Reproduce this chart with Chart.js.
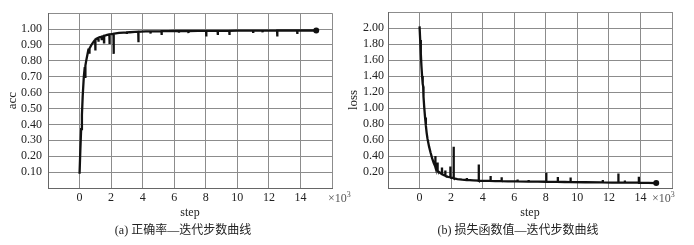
<!DOCTYPE html>
<html>
<head>
<meta charset="utf-8">
<script src="https://cdn.jsdelivr.net/npm/chart.js@4"></script>
<style>
  body { margin: 0; background: #fff; width: 694px; height: 245px; position: relative; overflow: hidden; }
  .panel { position: absolute; top: 0; width: 347px; height: 245px; }
  .cap { position: absolute; top: 222px; font: 12px/16px 'Liberation Serif', 'Noto Sans CJK SC'; color: #222; white-space: nowrap; transform: translateX(-50%); }
  .mul { position: absolute; top: 188px; font: 12px/14px 'Liberation Serif'; color: #555; white-space: nowrap; }
  .mul sup { font-size: 8px; }
</style>
</head>
<body>
<div class="panel" style="left:0">
  <canvas id="accChart" width="347" height="245"></canvas>
  <div class="mul" style="left:328px">×10<sup>3</sup></div>
  <div class="cap" style="left:183px">(a) 正确率—迭代步数曲线</div>
</div>
<div class="panel" style="left:347px">
  <canvas id="lossChart" width="347" height="245"></canvas>
  <div class="mul" style="left:305px">×10<sup>3</sup></div>
  <div class="cap" style="left:171px">(b) 损失函数值—迭代步数曲线</div>
</div>
<script>
// accuracy curve (step, acc)
const accSteps = [0, 50, 100, 150, 200, 270, 330, 350, 370, 420, 500, 560, 600, 620, 640, 750, 850, 950, 990, 1000,
  1010, 1100, 1190, 1200, 1210, 1300, 1390, 1400, 1410, 1500, 1540, 1550, 1560, 1650, 1750, 1890, 1900, 1910, 2000, 2150,
  2160, 2170, 2300, 2500, 2800, 2990, 3000, 3010, 3200, 3500, 3720, 3730, 3740, 3900, 4200, 4490, 4500, 4510, 4800, 5190,
  5200, 5210, 5600, 6000, 6290, 6300, 6310, 6890, 6900, 6910, 7500, 8020, 8030, 8040, 8400, 8750, 8760, 8770, 9100, 9490,
  9500, 9510, 10000, 10500, 10990, 11000, 11010, 11590, 11600, 11610, 12000, 12520, 12530, 12540, 13000, 13300, 13790, 13800, 13810, 14200,
  14600, 15000];
const accValues = [0.09, 0.24, 0.37, 0.46, 0.58, 0.70, 0.76, 0.70, 0.77, 0.80, 0.84, 0.87, 0.87, 0.845, 0.878, 0.90, 0.915, 0.928, 0.932, 0.865,
  0.935, 0.94, 0.945, 0.92, 0.946, 0.95, 0.952, 0.93, 0.953, 0.955, 0.956, 0.917, 0.958, 0.96, 0.963, 0.966, 0.906, 0.967, 0.968, 0.97,
  0.844, 0.971, 0.973, 0.976, 0.978, 0.979, 0.97, 0.979, 0.98, 0.982, 0.983, 0.917, 0.983, 0.984, 0.985, 0.986, 0.972, 0.986, 0.986, 0.987,
  0.963, 0.987, 0.987, 0.988, 0.988, 0.978, 0.988, 0.988, 0.975, 0.988, 0.989, 0.989, 0.954, 0.989, 0.989, 0.989, 0.963, 0.989, 0.989, 0.989,
  0.963, 0.989, 0.99, 0.99, 0.99, 0.982, 0.99, 0.99, 0.98, 0.99, 0.99, 0.991, 0.954, 0.991, 0.991, 0.991, 0.991, 0.969, 0.991, 0.991,
  0.991, 0.991];

// loss curve (step, loss)
const lossSteps = [0, 40, 80, 120, 160, 200, 230, 250, 300, 350, 400, 450, 500, 600, 700, 800, 900, 990, 1000, 1010,
  1100, 1130, 1140, 1150, 1300, 1410, 1420, 1430, 1550, 1620, 1630, 1640, 1800, 1940, 1950, 1960, 2100, 2150, 2160, 2170,
  2400, 2700, 2990, 3000, 3010, 3400, 3740, 3750, 3760, 4100, 4490, 4500, 4510, 4800, 5190, 5200, 5210, 5600, 6000, 6200,
  6210, 6220, 6900, 6910, 6920, 7500, 8020, 8030, 8040, 8400, 8750, 8760, 8770, 9200, 9560, 9570, 9580, 10500, 11500, 11600,
  11610, 11620, 12200, 12590, 12600, 12610, 13000, 13010, 13020, 13500, 13890, 13900, 13910, 14500, 15000];
const lossValues = [2.02, 1.85, 1.68, 1.52, 1.40, 1.30, 1.27, 1.14, 1.00, 0.88, 0.78, 0.69, 0.62, 0.52, 0.44, 0.37, 0.31, 0.27, 0.40, 0.26,
  0.23, 0.22, 0.32, 0.215, 0.19, 0.175, 0.255, 0.172, 0.16, 0.155, 0.22, 0.153, 0.14, 0.135, 0.27, 0.133, 0.125, 0.122, 0.515, 0.12,
  0.112, 0.105, 0.10, 0.125, 0.10, 0.095, 0.092, 0.295, 0.09, 0.09, 0.088, 0.15, 0.088, 0.087, 0.086, 0.135, 0.085, 0.084, 0.083, 0.082,
  0.105, 0.082, 0.08, 0.10, 0.08, 0.079, 0.078, 0.19, 0.078, 0.077, 0.076, 0.137, 0.076, 0.075, 0.074, 0.13, 0.074, 0.072, 0.07, 0.07,
  0.10, 0.07, 0.068, 0.068, 0.18, 0.068, 0.067, 0.095, 0.067, 0.066, 0.066, 0.14, 0.065, 0.064, 0.062];

const serif = "'Liberation Serif', 'Times New Roman', serif";

function makeChart(id, steps, values, yMax, yStep, yTitle, yWidth, titlePad, tickPad, padRight) {
    const points = steps.map((s, i) => ({ x: s, y: values[i] }));
    const last = points.length - 1;
    new Chart(document.getElementById(id), {
        type: 'line',
        data: {
            datasets: [{
                data: points,
                borderColor: '#111',
                backgroundColor: '#111',
                borderWidth: 2.3,
                tension: 0,
                pointRadius: ctx => ctx.dataIndex === last ? 3 : 0,
                pointBorderWidth: 0,
            }],
        },
        options: {
            responsive: false,
            animation: false,
            devicePixelRatio: 1,
            layout: { padding: { top: 12, right: padRight, bottom: 26, left: 0 } },
            plugins: { legend: { display: false }, tooltip: { enabled: false } },
            scales: {
                x: {
                    type: 'linear',
                    min: -2000,
                    max: 16000,
                    afterFit: s => { s.height = 31; },
                    ticks: {
                        stepSize: 2000,
                        autoSkip: false,
                        padding: 3,
                        maxRotation: 0,
                        color: '#222',
                        font: { family: serif, size: 12 },
                        callback: v => (v < 0 || v > 14000) ? '' : v / 1000,
                    },
                    grid: { color: '#8c8c8c', lineWidth: 1, drawTicks: false },
                    border: { color: '#666', width: 1 },
                    title: {
                        display: true,
                        text: 'step',
                        color: '#222',
                        font: { family: serif, size: 12, lineHeight: 1 },
                        padding: 0,
                    },
                },
                y: {
                    min: 0,
                    max: yMax,
                    afterFit: s => { s.width = yWidth; },
                    ticks: {
                        stepSize: yStep,
                        autoSkip: false,
                        padding: tickPad,
                        color: '#222',
                        font: { family: serif, size: 12 },
                        callback: v => (v < 1e-6 || v > yMax - 1e-6) ? '' : v.toFixed(2),
                    },
                    grid: { color: '#8c8c8c', lineWidth: 1, drawTicks: false },
                    border: { color: '#666', width: 1 },
                    title: {
                        display: true,
                        text: yTitle,
                        color: '#222',
                        font: { family: serif, size: 13, lineHeight: 1 },
                        padding: { top: titlePad, bottom: 0 },
                    },
                },
            },
        },
    });
}

makeChart('accChart', accSteps, accValues, 1.1, 0.1, 'acc', 48, 6, 6, 15);
makeChart('lossChart', lossSteps, lossValues, 2.2, 0.2, 'loss', 41, 0, 4, 22);
</script>
</body>
</html>
